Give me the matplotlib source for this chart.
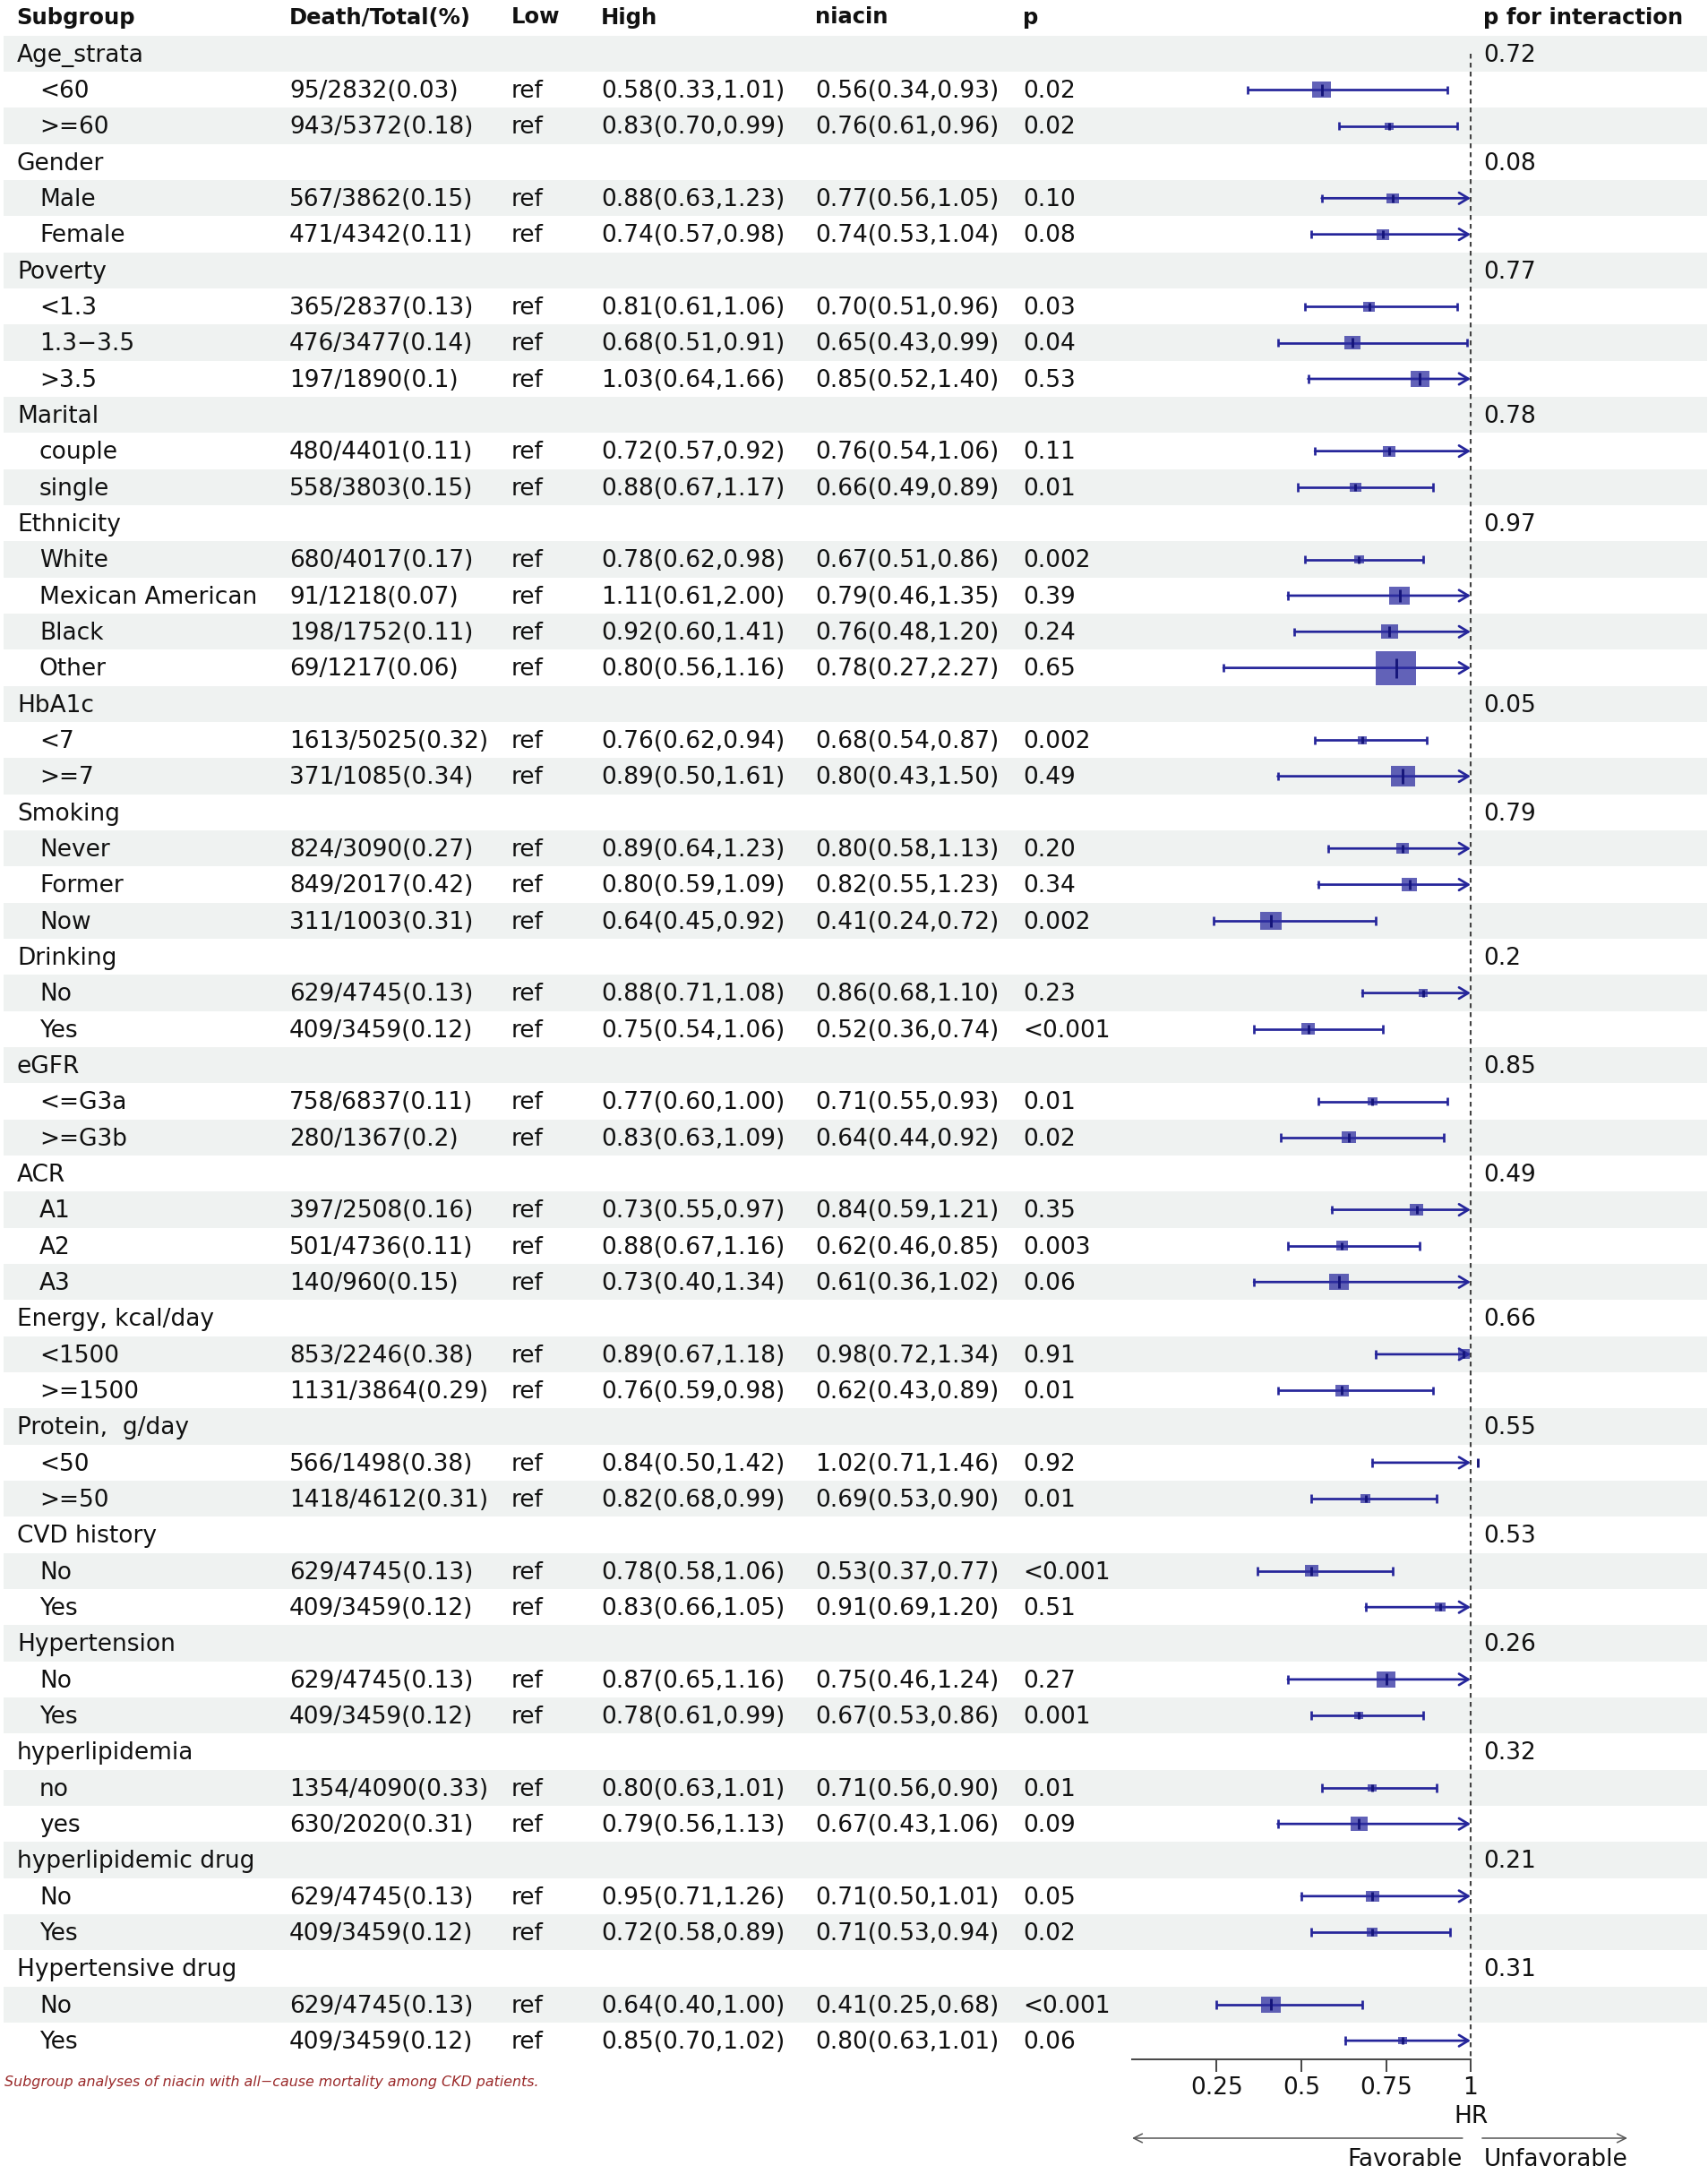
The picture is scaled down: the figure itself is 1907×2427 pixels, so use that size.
import numpy as np
import matplotlib
matplotlib.use("Agg")
import matplotlib.pyplot as plt
from matplotlib.patches import Rectangle

plt.rcParams['font.family'] = ['DejaVu Sans']

# ---------------- data ----------------
group_names = ["Age_strata", "Gender", "Poverty", "Marital", "Ethnicity", "HbA1c",
               "Smoking", "Drinking", "eGFR", "ACR", "Energy, kcal/day",
               "Protein,  g/day", "CVD history", "Hypertension", "hyperlipidemia",
               "hyperlipidemic drug", "Hypertensive drug"]
group_p_int = ["0.72", "0.08", "0.77", "0.78", "0.97", "0.05", "0.79", "0.2", "0.85",
               "0.49", "0.66", "0.55", "0.53", "0.26", "0.32", "0.21", "0.31"]

sub_group = [0, 0, 1, 1, 2, 2, 2, 3, 3, 4, 4, 4, 4, 5, 5, 6, 6, 6, 7, 7, 8, 8,
             9, 9, 9, 10, 10, 11, 11, 12, 12, 13, 13, 14, 14, 15, 15, 16, 16]
sub_labels = ["<60", ">=60", "Male", "Female", "<1.3", "1.3\u22123.5", ">3.5",
              "couple", "single", "White", "Mexican American", "Black", "Other",
              "<7", ">=7", "Never", "Former", "Now", "No", "Yes", "<=G3a", ">=G3b",
              "A1", "A2", "A3", "<1500", ">=1500", "<50", ">=50", "No", "Yes",
              "No", "Yes", "no", "yes", "No", "Yes", "No", "Yes"]
death_total = ["95/2832(0.03)", "943/5372(0.18)", "567/3862(0.15)", "471/4342(0.11)",
               "365/2837(0.13)", "476/3477(0.14)", "197/1890(0.1)", "480/4401(0.11)",
               "558/3803(0.15)", "680/4017(0.17)", "91/1218(0.07)", "198/1752(0.11)",
               "69/1217(0.06)", "1613/5025(0.32)", "371/1085(0.34)", "824/3090(0.27)",
               "849/2017(0.42)", "311/1003(0.31)", "629/4745(0.13)", "409/3459(0.12)",
               "758/6837(0.11)", "280/1367(0.2)", "397/2508(0.16)", "501/4736(0.11)",
               "140/960(0.15)", "853/2246(0.38)", "1131/3864(0.29)", "566/1498(0.38)",
               "1418/4612(0.31)", "629/4745(0.13)", "409/3459(0.12)", "629/4745(0.13)",
               "409/3459(0.12)", "1354/4090(0.33)", "630/2020(0.31)", "629/4745(0.13)",
               "409/3459(0.12)", "629/4745(0.13)", "409/3459(0.12)"]
high_hr  = [0.58, 0.83, 0.88, 0.74, 0.81, 0.68, 1.03, 0.72, 0.88, 0.78, 1.11, 0.92, 0.80,
            0.76, 0.89, 0.89, 0.80, 0.64, 0.88, 0.75, 0.77, 0.83, 0.73, 0.88, 0.73,
            0.89, 0.76, 0.84, 0.82, 0.78, 0.83, 0.87, 0.78, 0.80, 0.79, 0.95, 0.72,
            0.64, 0.85]
high_lcl = [0.33, 0.70, 0.63, 0.57, 0.61, 0.51, 0.64, 0.57, 0.67, 0.62, 0.61, 0.60, 0.56,
            0.62, 0.50, 0.64, 0.59, 0.45, 0.71, 0.54, 0.60, 0.63, 0.55, 0.67, 0.40,
            0.67, 0.59, 0.50, 0.68, 0.58, 0.66, 0.65, 0.61, 0.63, 0.56, 0.71, 0.58,
            0.40, 0.70]
high_ucl = [1.01, 0.99, 1.23, 0.98, 1.06, 0.91, 1.66, 0.92, 1.17, 0.98, 2.00, 1.41, 1.16,
            0.94, 1.61, 1.23, 1.09, 0.92, 1.08, 1.06, 1.00, 1.09, 0.97, 1.16, 1.34,
            1.18, 0.98, 1.42, 0.99, 1.06, 1.05, 1.16, 0.99, 1.01, 1.13, 1.26, 0.89,
            1.00, 1.02]
niacin_hr  = [0.56, 0.76, 0.77, 0.74, 0.70, 0.65, 0.85, 0.76, 0.66, 0.67, 0.79, 0.76, 0.78,
              0.68, 0.80, 0.80, 0.82, 0.41, 0.86, 0.52, 0.71, 0.64, 0.84, 0.62, 0.61,
              0.98, 0.62, 1.02, 0.69, 0.53, 0.91, 0.75, 0.67, 0.71, 0.67, 0.71, 0.71,
              0.41, 0.80]
niacin_lcl = [0.34, 0.61, 0.56, 0.53, 0.51, 0.43, 0.52, 0.54, 0.49, 0.51, 0.46, 0.48, 0.27,
              0.54, 0.43, 0.58, 0.55, 0.24, 0.68, 0.36, 0.55, 0.44, 0.59, 0.46, 0.36,
              0.72, 0.43, 0.71, 0.53, 0.37, 0.69, 0.46, 0.53, 0.56, 0.43, 0.50, 0.53,
              0.25, 0.63]
niacin_ucl = [0.93, 0.96, 1.05, 1.04, 0.96, 0.99, 1.40, 1.06, 0.89, 0.86, 1.35, 1.20, 2.27,
              0.87, 1.50, 1.13, 1.23, 0.72, 1.10, 0.74, 0.93, 0.92, 1.21, 0.85, 1.02,
              1.34, 0.89, 1.46, 0.90, 0.77, 1.20, 1.24, 0.86, 0.90, 1.06, 1.01, 0.94,
              0.68, 1.01]
p_values = ["0.02", "0.02", "0.10", "0.08", "0.03", "0.04", "0.53", "0.11", "0.01",
            "0.002", "0.39", "0.24", "0.65", "0.002", "0.49", "0.20", "0.34", "0.002",
            "0.23", "<0.001", "0.01", "0.02", "0.35", "0.003", "0.06", "0.91", "0.01",
            "0.92", "0.01", "<0.001", "0.51", "0.27", "0.001", "0.01", "0.09", "0.05",
            "0.02", "<0.001", "0.06"]
headers = ["Subgroup", "Death/Total(%)", "Low", "High", "niacin", "p", "p for interaction"]
x_ticks = [0.25, 0.5, 0.75, 1.0]
x_tick_labels = ["0.25", "0.5", "0.75", "1"]
caption = "Subgroup analyses of niacin with all\u2212cause mortality among CKD patients."

# ---------------- layout ----------------
W, H = 1908, 2427
ROW0, PITCH = 60.0, 40.33
TXT = '#111111'
FS = 19
FS_H = 17.5
CI_COL = '#25259a'
BOX_COL = '#2e2ea0'
TICK_COL = '#15157a'
AX_COL = '#4a4a4a'

rows = []  # (kind, index)
for g, name in enumerate(group_names):
    rows.append(('g', g))
    for s in range(len(sub_labels)):
        if sub_group[s] == g:
            rows.append(('s', s))
n_rows = len(rows)

fig = plt.figure(figsize=(W / 100, H / 100), dpi=100)
ax_bg = fig.add_axes([0, 0, 1, 1])
ax_bg.set_xlim(0, W)
ax_bg.set_ylim(H, 0)
ax_bg.axis('off')

def ypx(i):
    return ROW0 + PITCH * i

# zebra stripes
for i in range(n_rows):
    if i % 2 == 0:
        ax_bg.add_patch(Rectangle((4, ypx(i) - PITCH / 2), 1902, PITCH,
                                  facecolor='#eff2f1', edgecolor='none', zorder=0))

# header
hx = [18, 323, 571, 671, 910, 1142, 1656]
for x, h in zip(hx, headers):
    ax_bg.text(x, 26.5, h, fontsize=FS_H, fontweight='bold', color=TXT,
               ha='left', va='baseline')

# table text
BL = 8.8
for i, (kind, k) in enumerate(rows):
    yb = ypx(i) + BL
    if kind == 'g':
        ax_bg.text(19, yb, group_names[k], fontsize=FS, color=TXT, va='baseline')
        ax_bg.text(1656, yb, group_p_int[k], fontsize=FS, color=TXT, va='baseline')
    else:
        ax_bg.text(44, yb, sub_labels[k], fontsize=FS, color=TXT, va='baseline')
        ax_bg.text(323, yb, death_total[k], fontsize=FS, color=TXT, va='baseline')
        ax_bg.text(571, yb, "ref", fontsize=FS, color=TXT, va='baseline')
        ax_bg.text(671, yb, "%.2f(%.2f,%.2f)" % (high_hr[k], high_lcl[k], high_ucl[k]),
                   fontsize=FS, color=TXT, va='baseline')
        ax_bg.text(910, yb, "%.2f(%.2f,%.2f)" % (niacin_hr[k], niacin_lcl[k], niacin_ucl[k]),
                   fontsize=FS, color=TXT, va='baseline')
        ax_bg.text(1142, yb, p_values[k], fontsize=FS, color=TXT, va='baseline')

# ---------------- forest axes ----------------
L, R = 1264, 1642
T, B = ROW0 - PITCH / 2, 2299
ybot = (B - ROW0) / PITCH
ax_f = fig.add_axes([L / W, 1 - B / H, (R - L) / W, (B - T) / H])
ax_f.set_xlim(0, 1)
ax_f.set_ylim(ybot, -0.5)
ax_f.patch.set_alpha(0)
for sp in ['top', 'left', 'right']:
    ax_f.spines[sp].set_visible(False)
ax_f.spines['bottom'].set_bounds(0, 1)
ax_f.spines['bottom'].set_color(AX_COL)
ax_f.spines['bottom'].set_linewidth(1.45)
ax_f.set_yticks([])
ax_f.set_xticks(x_ticks)
ax_f.set_xticklabels(x_tick_labels, fontsize=FS, color=TXT)
ax_f.tick_params(axis='x', length=10, width=1.45, color=AX_COL, pad=4)

px_per_hr = R - L
# reference line
ax_f.plot([1, 1], [0, ybot], color='#444444', lw=1.5, linestyle=(0, (2.6, 2.2)),
          clip_on=False, zorder=1)

cap_half = 4.7 / PITCH
for i, (kind, k) in enumerate(rows):
    if kind != 's':
        continue
    est, lo, hi = niacin_hr[k], niacin_lcl[k], niacin_ucl[k]
    se = np.log(hi / lo) / 3.92
    w_px = 83 * se
    h_px = w_px / 1.19
    if hi > 1:
        ax_f.annotate('', xy=(1, i), xytext=(lo, i),
                      arrowprops=dict(arrowstyle='->,head_length=0.75,head_width=0.45',
                                      mutation_scale=10, color=CI_COL, lw=1.95,
                                      shrinkA=0, shrinkB=0),
                      annotation_clip=False, zorder=2)
        ax_f.plot([lo, lo], [i - cap_half, i + cap_half], color=CI_COL, lw=1.95,
                  solid_capstyle='butt', zorder=2)
    else:
        ax_f.plot([lo, hi], [i, i], color=CI_COL, lw=1.95, solid_capstyle='butt', zorder=2)
        for xe in (lo, hi):
            ax_f.plot([xe, xe], [i - cap_half, i + cap_half], color=CI_COL, lw=1.95,
                      solid_capstyle='butt', zorder=2)
    bw = w_px / px_per_hr
    bh = h_px / PITCH
    ax_f.add_patch(Rectangle((est - bw / 2, i - bh / 2), bw, bh, facecolor=BOX_COL,
                             alpha=0.75, edgecolor='none', zorder=3))
    th = min(max(0.75 * h_px, 8), 22) / PITCH
    ax_f.plot([est, est], [i - th / 2, i + th / 2], color=TICK_COL, lw=2.1,
              solid_capstyle='butt', clip_on=False, zorder=4)

# HR label and direction arrows
xy_tr = (ax_f.transData, ax_bg.transData)
ax_f.annotate('HR', xy=(1, 2363), xycoords=xy_tr, ha='center', va='center',
              fontsize=FS, color=TXT, annotation_clip=False)
ax_f.annotate('', xy=(0.0, 2387), xytext=(0.976, 2387), xycoords=xy_tr, textcoords=xy_tr,
              arrowprops=dict(arrowstyle='->,head_length=0.7,head_width=0.35',
                              mutation_scale=10, color='#555555', lw=1.1,
                              shrinkA=0, shrinkB=0), annotation_clip=False)
ax_f.annotate('', xy=(1.463, 2387), xytext=(1.034, 2387), xycoords=xy_tr, textcoords=xy_tr,
              arrowprops=dict(arrowstyle='->,head_length=0.7,head_width=0.35',
                              mutation_scale=10, color='#555555', lw=1.1,
                              shrinkA=0, shrinkB=0), annotation_clip=False)
ax_f.annotate('Favorable', xy=(0.976, 2418), xycoords=xy_tr, ha='right', va='baseline',
              fontsize=FS, color=TXT, annotation_clip=False)
ax_f.annotate('Unfavorable', xy=(1.04, 2418), xycoords=xy_tr, ha='left', va='baseline',
              fontsize=FS, color=TXT, annotation_clip=False)

# caption, fitted to its width in the reference
cap = ax_bg.text(5, 2325, caption, fontsize=10, style='italic', color='#9a2a2a',
                 ha='left', va='center')
r = fig.canvas.get_renderer()
wcap = cap.get_window_extent(r).width
cap.set_fontsize(10 * 596 / wcap)

fig.savefig('out.png', dpi=100, facecolor='white')
